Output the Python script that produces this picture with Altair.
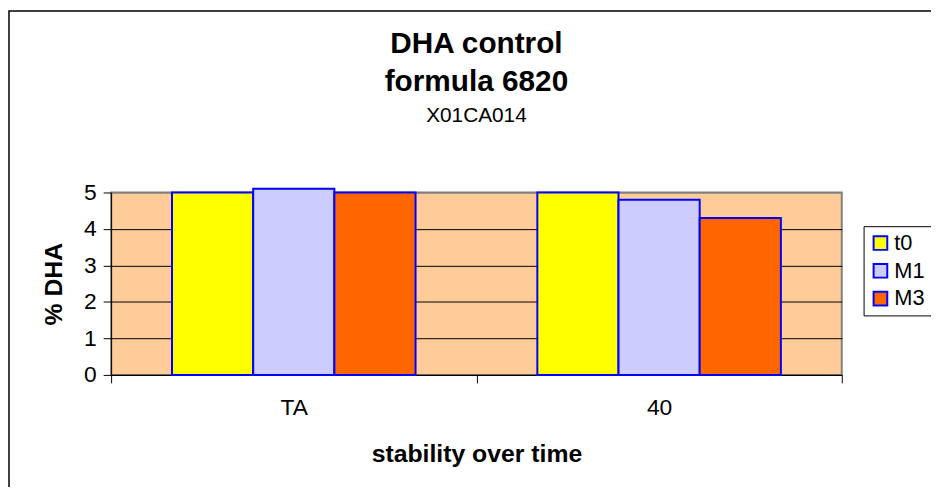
import altair as alt
import pandas as pd

times = ["TA", "40"]
series = ["t0", "M1", "M3"]
values_TA = [5.0, 5.1, 5.0]
values_40 = [5.0, 4.8, 4.3]
colors = ["#FFFF00", "#CCCCFF", "#FF6600"]
y_ticks = [0, 1, 2, 3, 4, 5]

rows = []
for t, vals in zip(times, [values_TA, values_40]):
    for s, v in zip(series, vals):
        rows.append({"time": t, "series": s, "value": v})
df = pd.DataFrame(rows)

FONT = "Liberation Sans"

border = alt.Chart(alt.Data(values=[{"a": 1}])).mark_rect(
    fill=None, stroke="black", strokeWidth=1.5
).encode(
    x=alt.value(-103), y=alt.value(-183), x2=alt.value(3000), y2=alt.value(3000)
)

bars = alt.Chart(df).mark_bar(stroke="#0000FF", strokeWidth=2, opacity=1).encode(
    x=alt.X("time:N", sort=times,
            scale=alt.Scale(paddingInner=0, paddingOuter=0),
            axis=alt.Axis(title="stability over time", labelAngle=0, tickBand="extent",
                          labelFontSize=23, titleFontSize=25, titleFontWeight="bold",
                          labelPadding=14, titlePadding=22, tickSize=8,
                          domainColor="black", tickColor="black", labelColor="black",
                          titleColor="black", labelFont=FONT, titleFont=FONT, grid=False)),
    xOffset=alt.XOffset("series:N", sort=series,
                        scale=alt.Scale(paddingInner=0, paddingOuter=0.75)),
    y=alt.Y("value:Q", scale=alt.Scale(domain=[0, 5], nice=False, zero=True),
            axis=alt.Axis(title="% DHA", values=y_ticks, format="d",
                          labelFontSize=23, titleFontSize=25, titleFontWeight="bold",
                          labelPadding=7, titlePadding=17, tickSize=8,
                          domainColor="black", tickColor="black", labelColor="black",
                          titleColor="black", labelFont=FONT, titleFont=FONT,
                          grid=True,
                          gridColor={"condition": {"test": "datum.value === 5", "value": "#808080"},
                                     "value": "black"},
                          gridWidth=1)),
    color=alt.Color("series:N", sort=series,
                    scale=alt.Scale(domain=series, range=colors),
                    legend=alt.Legend(title=None, orient="none", legendX=759, legendY=34,
                                      symbolType="square", symbolSize=190,
                                      symbolStrokeColor="#0000FF", symbolStrokeWidth=2,
                                      symbolOpacity=1,
                                      labelFontSize=22, labelFont=FONT, labelColor="black",
                                      strokeColor="black", fillColor="white",
                                      padding=6, rowPadding=6, labelOffset=3)),
)

chart = alt.layer(border, bars).properties(
    width=737, height=184,
    autosize=alt.AutoSizeParams(type="none"),
    padding={"left": 104, "top": 184, "right": 90, "bottom": 111},
    background="white",
    title=alt.TitleParams(text=["DHA control", "formula 6820"], subtitle="X01CA014",
                          fontSize=30, fontWeight="bold", font=FONT, color="black",
                          lineHeight=38, subtitleFontSize=21, subtitleFont=FONT,
                          subtitleColor="black", subtitleFontWeight="normal",
                          subtitlePadding=9, anchor="middle", offset=-117),
).configure_view(stroke="#808080", strokeWidth=2, fill="#FFCC99")

chart.save("out.html", embed_options={"renderer": "svg", "actions": False})
